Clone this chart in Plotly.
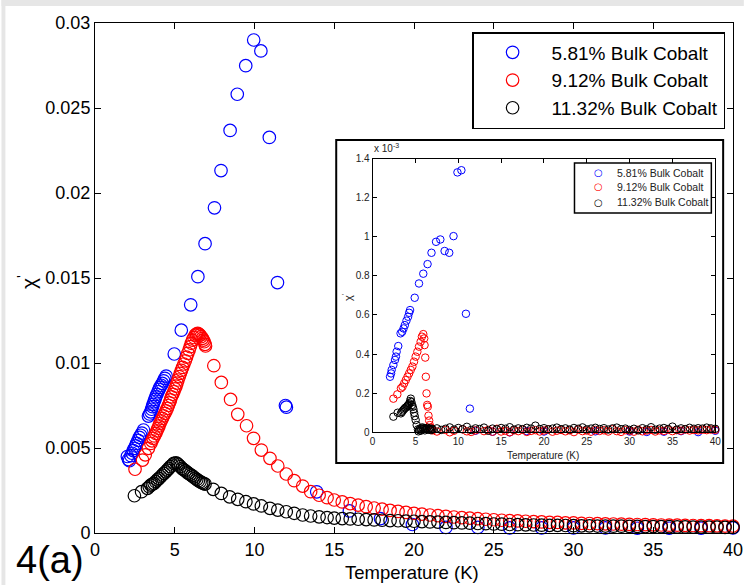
import plotly.graph_objects as go

# ---------------- main plot data (chi', Temperature in K) ----------------
blue_T = [2.03, 2.10, 2.16, 2.25, 2.33, 2.40, 2.47, 2.55, 2.61, 2.70, 2.78, 2.86, 2.94, 3.04,
          3.35, 3.42, 3.50, 3.55, 3.60, 3.65, 3.70, 3.76, 3.81, 3.88, 3.95, 4.01, 4.07, 4.15,
          4.22, 4.30, 4.38, 4.46, 4.97, 5.41, 6.00, 6.45, 6.90, 7.49, 7.90, 8.47, 8.92, 9.45,
          9.95, 10.40, 10.93, 11.44, 11.94, 12.00, 13.90, 15.95, 17.90, 19.90, 22.0, 24.0,
          26.0, 28.0, 30.0, 32.0, 34.0, 36.0, 38.0, 40.0]
blue_chi = [0.00450, 0.00432, 0.00425, 0.00455, 0.00469, 0.00485, 0.00498, 0.00512, 0.00527,
            0.00545, 0.00563, 0.00575, 0.00588, 0.00606,
            0.00688, 0.00700, 0.00713, 0.00728, 0.00743, 0.00757, 0.00772, 0.00786, 0.00801,
            0.00816, 0.00831, 0.00844, 0.00857, 0.00869, 0.00880, 0.00895, 0.00910, 0.00923,
            0.01053, 0.01193, 0.01342, 0.01508, 0.01702, 0.01913, 0.02132, 0.02368, 0.02581,
            0.02749, 0.02900, 0.02836, 0.02327, 0.01473, 0.00750, 0.00740, 0.00242, 0.00130,
            0.00085, 0.00050, 0.00033, 0.00033, 0.00030, 0.00030, 0.00030, 0.00030, 0.00028,
            0.00028, 0.00028, 0.00030]

red_T = [2.51, 2.98, 3.15, 3.35,
         3.50, 3.57, 3.64, 3.72, 3.81, 3.88, 3.95, 4.01, 4.07, 4.15, 4.22, 4.30, 4.38, 4.45,
         4.53, 4.60, 4.67, 4.73, 4.79, 4.87, 4.94, 5.01, 5.08, 5.14, 5.20, 5.28, 5.35, 5.42,
         5.49, 5.57, 5.66, 5.74, 5.82, 5.90, 5.97, 6.04, 6.11, 6.20, 6.28, 6.36, 6.44, 6.51,
         6.58, 6.65, 6.73, 6.79, 6.85, 6.90, 6.93,
         7.45, 7.92, 8.50, 8.95, 9.50, 9.94, 10.43, 10.97, 11.46, 11.99, 12.49, 13.02, 13.52,
         14.05, 14.55,
         15.0, 15.5, 16.0, 16.5, 17.0, 17.5, 18.0, 18.5, 19.0, 19.5,
         20.0, 20.5, 21.0, 21.5, 22.0, 22.5, 23.0, 23.5, 24.0, 24.5,
         25.0, 25.5, 26.0, 26.5, 27.0, 27.5, 28.0, 28.5, 29.0, 29.5,
         30.0, 30.5, 31.0, 31.5, 32.0, 32.5, 33.0, 33.5, 34.0, 34.5,
         35.0, 35.5, 36.0, 36.5, 37.0, 37.5, 38.0, 38.5, 39.0, 39.5, 40.0]
red_chi = [0.00375, 0.00429, 0.00460, 0.00498,
           0.00527, 0.00542, 0.00557, 0.00571, 0.00586, 0.00601, 0.00616, 0.00630, 0.00645,
           0.00660, 0.00674, 0.00689, 0.00704, 0.00718, 0.00733, 0.00750, 0.00766, 0.00783,
           0.00801, 0.00816, 0.00831, 0.00848, 0.00864, 0.00882, 0.00900, 0.00920, 0.00939,
           0.00957, 0.00974, 0.00994, 0.01013, 0.01035, 0.01057, 0.01077, 0.01096, 0.01116,
           0.01135, 0.01150, 0.01164, 0.01170, 0.01174, 0.01170, 0.01164, 0.01155, 0.01145,
           0.01135, 0.01125, 0.01110, 0.01100,
           0.00984, 0.00886, 0.00786, 0.00698, 0.00631, 0.00557, 0.00488, 0.00439, 0.00394,
           0.00347, 0.00308, 0.00276, 0.00243, 0.00222, 0.00208,
           0.00194, 0.00183, 0.00173, 0.00164, 0.00155, 0.00147, 0.00140, 0.00133, 0.00127, 0.00121,
           0.00116, 0.00111, 0.00106, 0.00102, 0.00098, 0.00094, 0.00090, 0.00087, 0.00084, 0.00081,
           0.00078, 0.00075, 0.00073, 0.00071, 0.00069, 0.00067, 0.00065, 0.00063, 0.00062, 0.00060,
           0.00059, 0.00057, 0.00056, 0.00055, 0.00054, 0.00053, 0.00052, 0.00051, 0.00050, 0.00049,
           0.00048, 0.00047, 0.00046, 0.00046, 0.00045, 0.00044, 0.00043, 0.00043, 0.00042, 0.00041,
           0.00041]

black_T = [2.47, 2.92, 3.29, 3.40, 3.50, 3.60, 3.70, 3.80, 3.91, 4.01, 4.12, 4.22, 4.32, 4.43,
           4.53, 4.63, 4.73, 4.84, 4.94, 5.08, 5.17, 5.25, 5.35, 5.45, 5.55, 5.66, 5.76, 5.86,
           5.97, 6.07, 6.17, 6.28, 6.38, 6.48, 6.59, 6.69, 6.80, 6.90,
           7.41, 7.92, 8.44, 8.95, 9.46, 9.94, 10.43, 10.97, 11.46, 11.99, 12.49, 13.02, 13.52,
           14.05, 14.55,
           15.0, 15.5, 16.0, 16.5, 17.0, 17.5, 18.0, 18.5, 19.0, 19.5,
           20.0, 20.5, 21.0, 21.5, 22.0, 22.5, 23.0, 23.5, 24.0, 24.5,
           25.0, 25.5, 26.0, 26.5, 27.0, 27.5, 28.0, 28.5, 29.0, 29.5,
           30.0, 30.5, 31.0, 31.5, 32.0, 32.5, 33.0, 33.5, 34.0, 34.5,
           35.0, 35.5, 36.0, 36.5, 37.0, 37.5, 38.0, 38.5, 39.0, 39.5, 40.0]
black_chi = [0.00219, 0.00243, 0.00263, 0.00272, 0.00282, 0.00287, 0.00292, 0.00302, 0.00312,
             0.00321, 0.00331, 0.00341, 0.00351, 0.00360, 0.00370, 0.00380, 0.00390, 0.00400,
             0.00410, 0.00413, 0.00407, 0.00400, 0.00390, 0.00380, 0.00373, 0.00366, 0.00358,
             0.00351, 0.00344, 0.00337, 0.00330, 0.00322, 0.00315, 0.00308, 0.00302, 0.00296,
             0.00292, 0.00288,
             0.00257, 0.00233, 0.00213, 0.00198, 0.00184, 0.00171, 0.00159, 0.00145, 0.00135,
             0.00125, 0.00116, 0.00106, 0.00100, 0.00095, 0.00091,
             0.00088, 0.00085, 0.00083, 0.00081, 0.00079, 0.00077, 0.00075, 0.00073, 0.00072, 0.00070,
             0.00069, 0.00067, 0.00065, 0.00064, 0.00062, 0.00061, 0.00059, 0.00058, 0.00056, 0.00055,
             0.00053, 0.00052, 0.00050, 0.00049, 0.00048, 0.00047, 0.00046, 0.00045, 0.00045, 0.00044,
             0.00043, 0.00042, 0.00042, 0.00041, 0.00041, 0.00040, 0.00040, 0.00039, 0.00039, 0.00038,
             0.00038, 0.00037, 0.00037, 0.00036, 0.00036, 0.00035, 0.00035, 0.00034, 0.00034, 0.00033,
             0.00033]

# ---------------- inset data (units of 1e-3) ----------------
in_blue_T = [2.03, 2.15, 2.22, 2.42, 2.61, 2.72, 2.80, 2.99, 3.26, 3.45, 3.61, 3.76, 3.95, 4.14,
             4.26, 4.37, 4.91, 5.41, 5.91, 6.41, 6.87, 7.40, 7.90, 8.40, 8.94, 9.44, 9.90, 10.36,
             10.89, 11.35,
             12.0, 14.0, 16.0, 18.0, 20.0, 22.0, 24.0, 26.0, 28.0, 30.0, 32.0, 34.0, 36.0, 38.0, 40.0]
in_blue_v = [0.284, 0.301, 0.319, 0.344, 0.370, 0.387, 0.412, 0.441, 0.506, 0.514, 0.531, 0.548,
             0.571, 0.591, 0.611, 0.625, 0.688, 0.761, 0.811, 0.860, 0.918, 0.974, 0.986, 0.927,
             0.918, 1.003, 1.329, 1.340, 0.606, 0.121,
             0.008, 0.003, 0.000, 0.006, 0.004, -0.002, -0.003, 0.005, -0.002, 0.004, 0.002, 0.003,
             0.006, 0.001, 0.008]

in_red_T = [2.42, 2.88, 3.30, 3.49, 3.68, 3.87, 4.07, 4.26, 4.45, 4.64, 4.83, 5.02, 5.22, 5.41,
            5.60, 5.75, 5.91, 6.02, 6.06, 6.14, 6.21, 6.29, 6.37, 6.44, 6.52, 6.60, 6.67, 6.75, 6.83,
            7.0, 7.5, 8.0, 8.5, 9.0, 9.5, 10.0, 10.5, 11.0, 11.5,
            12.0, 12.5, 13.0, 13.5, 14.0, 14.5, 15.0, 15.5, 16.0, 16.5,
            17.0, 17.5, 18.0, 18.5, 19.0, 19.5, 20.0, 20.5, 21.0, 21.5,
            22.0, 22.5, 23.0, 23.5, 24.0, 24.5, 25.0, 25.5, 26.0, 26.5,
            27.0, 27.5, 28.0, 28.5, 29.0, 29.5, 30.0, 30.5, 31.0, 31.5,
            32.0, 32.5, 33.0, 33.5, 34.0, 34.5, 35.0, 35.5, 36.0, 36.5,
            37.0, 37.5, 38.0, 38.5, 39.0, 39.5, 40.0]
in_red_v = [0.172, 0.194, 0.225, 0.233, 0.250, 0.267, 0.284, 0.301, 0.319, 0.336, 0.361, 0.387,
            0.412, 0.438, 0.463, 0.489, 0.502, 0.480, 0.446, 0.382, 0.284, 0.199, 0.140, 0.131,
            0.085, 0.060, 0.037, 0.024, 0.012,
            0.010, 0.004, -0.006, 0.012, 0.000, 0.008, -0.004, 0.015, 0.005, 0.002,
            0.010, -0.002, 0.006, 0.012, 0.003, 0.018, 0.004, 0.008, 0.000, 0.010,
            0.006, 0.013, 0.002, 0.007, 0.011, 0.004, 0.009, 0.015, 0.003, 0.008,
            0.012, 0.005, 0.010, 0.001, 0.014, 0.006, 0.009, 0.003, 0.012, 0.007,
            0.010, 0.004, 0.016, 0.006, 0.002, 0.011, 0.008, 0.003, 0.013, 0.005,
            0.009, 0.012, 0.004, 0.010, 0.007, 0.014, 0.006, 0.011, 0.008, 0.015,
            0.009, 0.012, 0.010, 0.013, 0.011, 0.014, 0.012]

in_black_T = [2.42, 2.92, 3.30, 3.42, 3.53, 3.65, 3.76, 3.88, 3.99, 4.07, 4.14, 4.22, 4.30, 4.38,
              4.45, 4.52, 4.60, 4.68, 4.76, 4.84, 4.91, 5.02, 5.14, 5.29,
              5.35, 5.45, 5.55, 5.60, 5.70, 5.80, 5.90, 6.00, 6.10, 6.20, 6.30, 6.40, 6.50, 6.60,
              6.70, 6.80, 6.90,
              7.0, 7.5, 8.0, 8.5, 9.0, 9.5, 10.0, 10.5, 11.0, 11.5,
              12.0, 12.5, 13.0, 13.5, 14.0, 14.5, 15.0, 15.5, 16.0, 16.5,
              17.0, 17.5, 18.0, 18.5, 19.0, 19.5, 20.0, 20.5, 21.0, 21.5,
              22.0, 22.5, 23.0, 23.5, 24.0, 24.5, 25.0, 25.5, 26.0, 26.5,
              27.0, 27.5, 28.0, 28.5, 29.0, 29.5, 30.0, 30.5, 31.0, 31.5,
              32.0, 32.5, 33.0, 33.5, 34.0, 34.5, 35.0, 35.5, 36.0, 36.5,
              37.0, 37.5, 38.0, 38.5, 39.0, 39.5, 40.0]
in_black_v = [0.080, 0.100, 0.097, 0.104, 0.111, 0.117, 0.123, 0.127, 0.131, 0.135, 0.138, 0.143,
              0.148, 0.160, 0.172, 0.155, 0.140, 0.130, 0.118, 0.100, 0.083, 0.063, 0.037, 0.015,
              0.005, 0.012, 0.020, 0.008, 0.018, 0.025, 0.015, 0.022, 0.010, 0.019, 0.016, 0.023,
              0.013, 0.020, 0.017, 0.011, 0.018,
              0.015, 0.020, 0.012, 0.018, 0.025, 0.014, 0.022, 0.016, 0.028, 0.012,
              0.020, 0.017, 0.024, 0.008, 0.019, 0.015, 0.022, 0.018, 0.026, 0.014,
              0.020, 0.016, 0.023, 0.019, 0.034, 0.017, 0.021, 0.015, 0.019, 0.024,
              0.016, 0.020, 0.014, 0.022, 0.018, 0.025, 0.015, 0.019, 0.023, 0.017,
              0.021, 0.014, 0.020, 0.024, 0.016, 0.019, 0.012, 0.018, 0.010, 0.021,
              0.015, 0.026, 0.013, 0.019, 0.022, 0.017, 0.029, 0.014, 0.020, 0.016,
              0.023, 0.018, 0.021, 0.019, 0.024, 0.020, 0.018]

series_names = ["5.81% Bulk Cobalt", "9.12% Bulk Cobalt", "11.32% Bulk Cobalt"]
series_colors = ["#0000ff", "#ff0000", "#000000"]

main_xticks = [0, 5, 10, 15, 20, 25, 30, 35, 40]
main_yticks = [0, 0.005, 0.01, 0.015, 0.02, 0.025, 0.03]
main_yticktext = ["0", "0.005", "0.01", "0.015", "0.02", "0.025", "0.03"]
inset_yticks = [0, 0.2, 0.4, 0.6, 0.8, 1.0, 1.2, 1.4]
inset_yticktext = ["0", "0.2", "0.4", "0.6", "0.8", "1", "1.2", "1.4"]

FONT = "Arial, Liberation Sans, sans-serif"

# ---------------- figure geometry (pixels) ----------------
W, H = 754, 585
ML, MR, MT, MB = 95, 11, 23, 52
PW, PH = W - ML - MR, H - MT - MB


def px(x):
    return (x - ML) / PW


def py(y):
    return (H - MB - y) / PH


fig = go.Figure()

main_sets = [(blue_T, blue_chi), (red_T, red_chi), (black_T, black_chi)]
for (t, v), name, col in zip(main_sets, series_names, series_colors):
    fig.add_trace(go.Scatter(
        x=t, y=v, mode="markers", name=name, legendgroup=name,
        marker=dict(symbol="circle-open", size=12.5, color=col, line=dict(width=1.2)),
        cliponaxis=False, xaxis="x", yaxis="y"))

inset_sets = [(in_blue_T, in_blue_v), (in_red_T, in_red_v), (in_black_T, in_black_v)]
for (t, v), name, col in zip(inset_sets, series_names, series_colors):
    fig.add_trace(go.Scatter(
        x=t, y=v, mode="markers", name=name, showlegend=False,
        marker=dict(symbol="circle-open", size=7.5, color=col, line=dict(width=1)),
        cliponaxis=False, xaxis="x2", yaxis="y2"))

axis_common = dict(showgrid=False, zeroline=False, showline=True, linecolor="black",
                   linewidth=1, ticks="inside", mirror="ticks", tickcolor="black")

shapes = [
    # grey page border strips
    dict(type="rect", xref="paper", yref="paper", x0=px(0), x1=px(W), y0=py(6), y1=py(0),
         fillcolor="#e6e6e6", line=dict(width=0), layer="below"),
    dict(type="rect", xref="paper", yref="paper", x0=px(0), x1=px(4), y0=py(H), y1=py(0),
         fillcolor="#e6e6e6", line=dict(width=0), layer="below"),
    # inset frame
    dict(type="rect", xref="paper", yref="paper", x0=px(340), x1=px(733), y0=py(463), y1=py(140),
         fillcolor="white", line=dict(color="black", width=2), layer="below"),
    # inset legend box
    dict(type="rect", xref="paper", yref="paper", x0=px(582), x1=px(721), y0=py(213), y1=py(163),
         fillcolor="white", line=dict(color="black", width=1.5), layer="above"),
]

annotations = [
    dict(text="Temperature (K)", x=px(417), y=py(572), xref="paper", yref="paper",
         showarrow=False, font=dict(size=18.5, family=FONT, color="black"),
         xanchor="center", yanchor="middle"),
    dict(text="χ<sup>'</sup>", x=px(26), y=py(282), xref="paper", yref="paper",
         showarrow=False, textangle=-90, font=dict(size=21, family=FONT, color="black"),
         xanchor="center", yanchor="middle"),
    dict(text="4(a)", x=px(13), y=py(560), xref="paper", yref="paper",
         showarrow=False, font=dict(size=38, family=FONT, color="black"),
         xanchor="left", yanchor="middle"),
    # inset texts
    dict(text="Temperature (K)", x=px(550), y=py(455), xref="paper", yref="paper",
         showarrow=False, font=dict(size=10, family=FONT, color="#222"),
         xanchor="center", yanchor="middle"),
    dict(text="χ<sup>'</sup>", x=px(351), y=py(297), xref="paper", yref="paper",
         showarrow=False, textangle=-90, font=dict(size=11, family=FONT, color="#222"),
         xanchor="center", yanchor="middle"),
    dict(text="x 10<sup>-3</sup>", x=px(376), y=py(148), xref="paper", yref="paper",
         showarrow=False, font=dict(size=10, family=FONT, color="#222"),
         xanchor="left", yanchor="middle"),
]

legend_rows = [173, 187, 202]
for row, name, col in zip(legend_rows, series_names, series_colors):
    annotations.append(dict(text="○", x=px(606), y=py(row), xref="paper", yref="paper",
                            showarrow=False, font=dict(size=10, family="DejaVu Sans", color=col),
                            xanchor="center", yanchor="middle"))
    annotations.append(dict(text=name, x=px(623), y=py(row), xref="paper", yref="paper",
                            showarrow=False, font=dict(size=10.5, family=FONT, color="#222"),
                            xanchor="left", yanchor="middle"))

fig.update_layout(
    width=W, height=H, autosize=False,
    margin=dict(l=ML, r=MR, t=MT, b=MB),
    paper_bgcolor="white", plot_bgcolor="white",
    font=dict(family=FONT, color="black"),
    xaxis=dict(domain=[0, 1], range=[0, 40], tickvals=main_xticks, ticklen=6,
               tickfont=dict(size=18), anchor="y", **axis_common),
    yaxis=dict(domain=[0, 1], range=[0, 0.03], tickvals=main_yticks, ticktext=main_yticktext,
               ticklen=6, tickfont=dict(size=18), anchor="x", **axis_common),
    xaxis2=dict(domain=[px(377), px(725)], range=[0, 40], tickvals=main_xticks, ticklen=4,
                tickfont=dict(size=10, color="#222"), anchor="y2", **axis_common),
    yaxis2=dict(domain=[py(432.3), py(158.5)], range=[0, 1.4], tickvals=inset_yticks,
                ticktext=inset_yticktext, ticklen=4, tickfont=dict(size=10, color="#222"),
                anchor="x2", **axis_common),
    legend=dict(x=px(478), y=py(32), xanchor="left", yanchor="top",
                bordercolor="black", borderwidth=1.5, bgcolor="white",
                font=dict(size=19, family=FONT, color="black"),
                itemwidth=68, tracegroupgap=2, traceorder="normal"),
    showlegend=True,
    shapes=shapes,
    annotations=annotations,
)

fig.write_html("out.html")
